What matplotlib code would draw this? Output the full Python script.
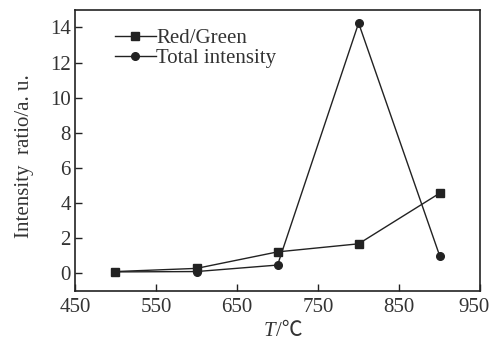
import matplotlib
matplotlib.use("Agg")
import matplotlib.pyplot as plt
from matplotlib.transforms import ScaledTranslation

temps = [500, 600, 700, 800, 900]
red_green = [0.10, 0.28, 1.22, 1.68, 4.56]
total_intensity = [0.08, 0.10, 0.47, 14.25, 1.00]
xticks = [450, 550, 650, 750, 850, 950]
yticks = [0, 2, 4, 6, 8, 10, 12, 14]

plt.rcParams['font.family'] = ['Liberation Serif', 'Noto Sans CJK SC', 'DejaVu Sans']
txt = '#333333'
fs = 15

fig = plt.figure(figsize=(4.93, 3.41), dpi=100)
ax = fig.add_axes([0.152, 0.147, 0.822, 0.824])
ax.plot(temps, red_green, color='#222222', lw=1.0, marker='s', ms=5.5, label='Red/Green')
ax.plot(temps, total_intensity, color='#222222', lw=1.0, marker='o', ms=5.5, label='Total intensity')
ax.set_xlim(450, 950)
ax.set_ylim(-1, 15)
ax.set_xticks(xticks)
ax.set_yticks(yticks)
ax.tick_params(direction='in', length=5, width=1, labelsize=fs, labelcolor=txt, colors='#222222')
ax.tick_params(axis='x', pad=5)
ax.tick_params(axis='y', pad=3)
for s in ax.spines.values():
    s.set_linewidth(1.2)
    s.set_color('#222222')
fig.canvas.draw()
last = ax.get_xticklabels()[-1]
last.set_transform(last.get_transform() + ScaledTranslation(-6 / 100, 0, fig.dpi_scale_trans))
ax.text(0.495, -0.145, 'T', transform=ax.transAxes, fontsize=fs, color=txt,
        ha='right', va='center', fontstyle='italic')
ax.text(0.495, -0.145, '/℃', transform=ax.transAxes, fontsize=fs, color=txt,
        ha='left', va='center')
ax.set_ylabel('Intensity  ratio/a. u.', fontsize=fs, color=txt)
ax.yaxis.set_label_coords(-0.102, 0.48)
ax.legend(loc='upper left', frameon=False, fontsize=fs, handlelength=2.0, handletextpad=0.0,
          borderaxespad=0.3, labelspacing=0.0, bbox_to_anchor=(0.062, 0.985), labelcolor=txt)
fig.savefig('out.png', dpi=100)
